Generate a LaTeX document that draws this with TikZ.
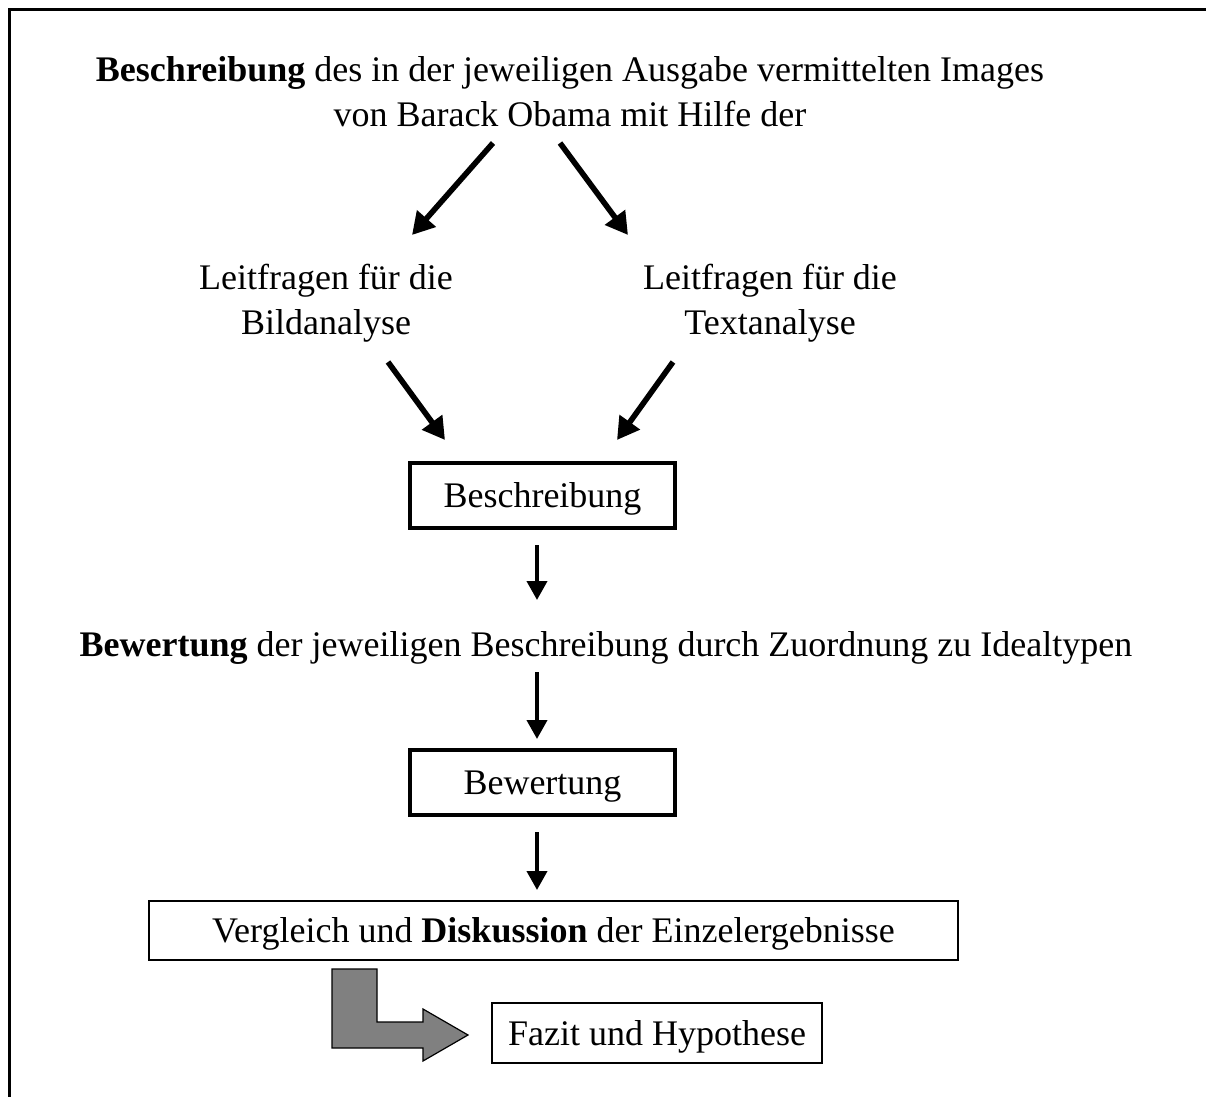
\documentclass[tikz,border=0pt]{standalone}
\usepackage{fontspec}
\setmainfont{Liberation Serif}
\usetikzlibrary{arrows.meta}
\tikzset{
  txt/.style={font=\fontsize{18}{22.5}\selectfont, inner sep=0pt, align=center},
  thickbox/.style={draw, line width=2pt, minimum width=132.5pt, minimum height=32.5pt, inner sep=0pt, text depth=0pt, font=\fontsize{18}{22.5}\selectfont},
  thinbox/.style={draw, line width=0.75pt, inner sep=0pt, text depth=0pt, font=\fontsize{18}{22.5}\selectfont},
  diagarr/.style={line width=2.8pt, -{Triangle[length=11pt,width=12pt]}},
  vertarr/.style={line width=2pt, -{Triangle[length=9.5pt,width=10pt]}},
  bentarrow/.style={draw=black, line width=0.6pt, fill=black!50, line join=miter}
}
\begin{document}
\begin{tikzpicture}[x=0.5pt,y=-0.5pt]
\useasboundingbox (0,0) rectangle (1206,1097);
% frame
\draw[line width=1.5pt] (9.5,1097) -- (9.5,9.5) -- (1206,9.5);

% texts (anchor=base of a two-line node is the baseline of its last line)
\node[txt, anchor=base] (title) at (570,127)
  {\textbf{Beschreibung} des in der jeweiligen Ausgabe vermittelten Images\\von Barack Obama mit Hilfe der};
\node[txt, anchor=base] (lbild) at (326,334) {Leitfragen für die\\Bildanalyse};
\node[txt, anchor=base] (ltext) at (770,334) {Leitfragen für die\\Textanalyse};
\node[thickbox] (besch) at (542.5,495.5) {Beschreibung};
\node[txt, anchor=base] (bewline) at (606,656)
  {\textbf{Bewertung} der jeweiligen Beschreibung durch Zuordnung zu Idealtypen};
\node[thickbox] (bew) at (542.5,782.5) {Bewertung};
\node[thinbox, minimum width=404.5pt, minimum height=29.5pt] (disk) at (553.5,930.5)
  {Vergleich und \textbf{Diskussion} der Einzelergebnisse};
\node[thinbox, minimum width=165pt, minimum height=30pt] (fazit) at (657,1033) {Fazit und Hypothese};

% arrow end points
\coordinate (a1s) at (493,143); \coordinate (a1e) at (412,235);
\coordinate (a2s) at (560,143); \coordinate (a2e) at (628,235);
\coordinate (a3s) at (388,362); \coordinate (a3e) at (445,440);
\coordinate (a4s) at (673,362); \coordinate (a4e) at (617,440);
\coordinate (a5s) at (537,545); \coordinate (a5e) at (537,600);
\coordinate (a6s) at (537,672); \coordinate (a6e) at (537,739);
\coordinate (a7s) at (537,832); \coordinate (a7e) at (537,890);

\draw[diagarr] (a1s) -- (a1e);
\draw[diagarr] (a2s) -- (a2e);
\draw[diagarr] (a3s) -- (a3e);
\draw[diagarr] (a4s) -- (a4e);
\draw[vertarr] (a5s) -- (a5e);
\draw[vertarr] (a6s) -- (a6e);
\draw[vertarr] (a7s) -- (a7e);

% bent arrow
\draw[bentarrow] (332,969) -- (377,969) -- (377,1022) -- (423,1022) -- (423,1009)
  -- (468,1035) -- (423,1061) -- (423,1048) -- (332,1048) -- cycle;
\end{tikzpicture}
\end{document}
